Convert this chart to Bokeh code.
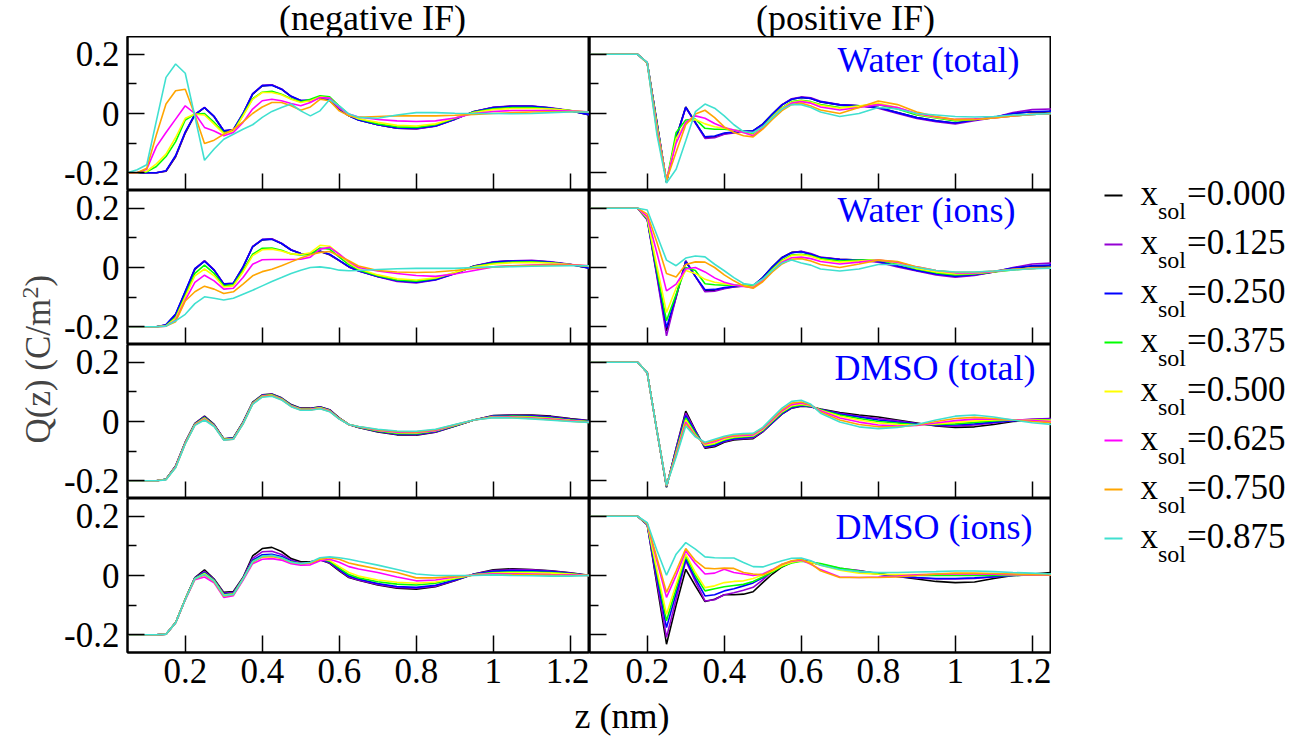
import math
from bokeh.plotting import figure
from bokeh.layouts import row, column
from bokeh.models import Range1d, FixedTicker, Label, ColumnDataSource, CustomLabelingPolicy
from bokeh.embed import file_html
from bokeh.resources import INLINE

FONT = "Liberation Serif"

# ---------------- data ----------------
Z = [0.05, 0.075, 0.1, 0.125, 0.15, 0.175, 0.2, 0.225, 0.25, 0.275, 0.3, 0.325, 0.35,
     0.375, 0.4, 0.425, 0.45, 0.475, 0.5, 0.525, 0.55, 0.575, 0.6, 0.625, 0.65,
     0.7, 0.75, 0.8, 0.85, 0.9, 0.95, 1.0, 1.05, 1.1, 1.15, 1.2, 1.25]

X_SOL = ["0.000", "0.125", "0.250", "0.375", "0.500", "0.625", "0.750", "0.875"]
COLORS = ["#000000", "#9400D3", "#0000FF", "#00FF00", "#FFFF00", "#FF00FF", "#FFA500", "#40E0D0"]

PANEL_LABELS = ["Water (total)", "Water (ions)", "DMSO (total)", "DMSO (ions)"]
COL_TITLES = ["(negative IF)", "(positive IF)"]
X_TICKS = [0.2, 0.4, 0.6, 0.8, 1.0, 1.2]
X_TICK_LABELS = ["0.2", "0.4", "0.6", "0.8", "1", "1.2"]
Y_TICKS = [-0.2, 0.0, 0.2]
Y_TICK_LABELS = ["-0.2", "0", "0.2"]
Y_MINOR = [-0.1, 0.1]

# Water (total), negative IF
wt_neg = [
    [-0.200, -0.200, -0.200, -0.200, -0.195, -0.146, -0.066, -0.005, 0.020, -0.011, -0.060, -0.056, -0.002,
     0.065, 0.093, 0.096, 0.082, 0.057, 0.043, 0.043, 0.054, 0.043, 0.015, -0.008, -0.022,
     -0.038, -0.050, -0.051, -0.042, -0.019, 0.007, 0.020, 0.025, 0.024, 0.018, 0.009, -0.005],
    [-0.200, -0.200, -0.200, -0.200, -0.194, -0.144, -0.064, -0.003, 0.021, -0.010, -0.058, -0.055, 0.000,
     0.067, 0.095, 0.097, 0.083, 0.058, 0.044, 0.044, 0.055, 0.044, 0.016, -0.007, -0.021,
     -0.038, -0.050, -0.052, -0.043, -0.020, 0.007, 0.021, 0.026, 0.025, 0.019, 0.010, -0.004],
    [-0.200, -0.200, -0.200, -0.200, -0.193, -0.142, -0.062, -0.003, 0.020, -0.010, -0.058, -0.054, 0.000,
     0.066, 0.094, 0.095, 0.082, 0.058, 0.044, 0.045, 0.056, 0.045, 0.016, -0.008, -0.022,
     -0.038, -0.049, -0.050, -0.042, -0.019, 0.006, 0.020, 0.024, 0.024, 0.018, 0.009, -0.004],
    [-0.200, -0.200, -0.197, -0.179, -0.145, -0.095, -0.022, -0.002, 0.000, -0.030, -0.065, -0.060, -0.005,
     0.050, 0.072, 0.075, 0.065, 0.050, 0.040, 0.048, 0.060, 0.056, 0.025, -0.003, -0.018,
     -0.035, -0.045, -0.047, -0.038, -0.017, 0.005, 0.016, 0.020, 0.020, 0.016, 0.010, 0.004],
    [-0.200, -0.200, -0.195, -0.170, -0.137, -0.081, -0.016, -0.002, -0.005, -0.036, -0.068, -0.061, -0.008,
     0.048, 0.071, 0.071, 0.063, 0.048, 0.037, 0.043, 0.056, 0.052, 0.020, -0.005, -0.018,
     -0.030, -0.040, -0.042, -0.035, -0.015, 0.003, 0.013, 0.017, 0.017, 0.015, 0.010, 0.005],
    [-0.200, -0.200, -0.188, -0.112, -0.064, -0.019, 0.026, 0.000, -0.047, -0.059, -0.075, -0.064, -0.030,
     0.015, 0.043, 0.048, 0.043, 0.034, 0.026, 0.037, 0.054, 0.052, 0.020, -0.002, -0.012,
     -0.020, -0.025, -0.027, -0.025, -0.015, 0.000, 0.007, 0.010, 0.010, 0.010, 0.008, 0.006],
    [-0.200, -0.200, -0.185, -0.072, 0.032, 0.077, 0.082, -0.005, -0.101, -0.090, -0.070, -0.053, -0.028,
     0.000, 0.022, 0.037, 0.037, 0.026, 0.011, 0.022, 0.048, 0.043, 0.009, -0.008, -0.013,
     -0.010, -0.008, -0.008, -0.008, -0.006, -0.003, 0.000, 0.003, 0.005, 0.006, 0.006, 0.005],
    [-0.200, -0.190, -0.173, -0.025, 0.122, 0.167, 0.136, -0.010, -0.158, -0.120, -0.087, -0.070, -0.053,
     -0.038, -0.013, 0.007, 0.020, 0.032, 0.009, -0.008, 0.009, 0.047, 0.026, -0.002, -0.013,
     -0.016, -0.005, 0.003, 0.003, 0.001, 0.000, 0.000, -0.001, 0.000, 0.003, 0.005, 0.005],
]

# Water (ions), negative IF
wi_neg = [
    [-0.200, -0.200, -0.200, -0.200, -0.194, -0.160, -0.084, -0.006, 0.022, -0.009, -0.056, -0.054, 0.000,
     0.070, 0.093, 0.096, 0.081, 0.059, 0.047, 0.045, 0.054, 0.043, 0.023, 0.002, -0.011,
     -0.030, -0.045, -0.050, -0.040, -0.020, 0.005, 0.018, 0.022, 0.023, 0.018, 0.010, -0.003],
    [-0.200, -0.200, -0.200, -0.200, -0.194, -0.158, -0.082, -0.004, 0.023, -0.008, -0.055, -0.053, 0.002,
     0.071, 0.095, 0.097, 0.082, 0.060, 0.047, 0.046, 0.055, 0.044, 0.023, 0.002, -0.012,
     -0.031, -0.047, -0.052, -0.042, -0.021, 0.005, 0.019, 0.023, 0.024, 0.019, 0.011, -0.002],
    [-0.200, -0.200, -0.200, -0.200, -0.193, -0.157, -0.080, -0.004, 0.021, -0.009, -0.056, -0.053, 0.001,
     0.070, 0.094, 0.095, 0.081, 0.059, 0.047, 0.046, 0.056, 0.045, 0.024, 0.003, -0.011,
     -0.030, -0.045, -0.050, -0.041, -0.020, 0.004, 0.018, 0.022, 0.022, 0.018, 0.010, -0.002],
    [-0.200, -0.200, -0.200, -0.200, -0.196, -0.168, -0.095, -0.020, 0.008, -0.020, -0.062, -0.058, -0.010,
     0.045, 0.065, 0.066, 0.058, 0.046, 0.042, 0.045, 0.066, 0.062, 0.035, 0.010, -0.008,
     -0.028, -0.042, -0.046, -0.037, -0.018, 0.003, 0.014, 0.018, 0.019, 0.016, 0.010, 0.003],
    [-0.200, -0.200, -0.200, -0.200, -0.197, -0.172, -0.100, -0.028, -0.005, -0.028, -0.066, -0.062, -0.015,
     0.040, 0.060, 0.062, 0.056, 0.046, 0.044, 0.050, 0.075, 0.072, 0.045, 0.015, -0.004,
     -0.025, -0.038, -0.042, -0.035, -0.017, 0.002, 0.012, 0.016, 0.017, 0.015, 0.010, 0.004],
    [-0.200, -0.200, -0.200, -0.200, -0.198, -0.178, -0.110, -0.050, -0.026, -0.045, -0.073, -0.070, -0.034,
     0.011, 0.026, 0.027, 0.027, 0.027, 0.028, 0.035, 0.062, 0.068, 0.045, 0.020, 0.000,
     -0.012, -0.020, -0.027, -0.030, -0.022, -0.010, 0.002, 0.006, 0.008, 0.010, 0.010, 0.006],
    [-0.200, -0.200, -0.200, -0.200, -0.198, -0.183, -0.113, -0.082, -0.063, -0.073, -0.088, -0.082, -0.056,
     -0.028, -0.014, -0.006, 0.006, 0.019, 0.032, 0.043, 0.051, 0.054, 0.039, 0.023, 0.005,
     -0.010, -0.015, -0.017, -0.015, -0.010, -0.003, 0.002, 0.005, 0.007, 0.008, 0.008, 0.006],
    [-0.200, -0.200, -0.200, -0.200, -0.198, -0.180, -0.158, -0.122, -0.099, -0.104, -0.110, -0.104, -0.090,
     -0.077, -0.062, -0.047, -0.034, -0.020, -0.009, 0.000, 0.002, -0.002, -0.009, -0.011, -0.010,
     -0.007, -0.004, -0.003, -0.003, -0.003, 0.000, 0.002, 0.003, 0.004, 0.005, 0.006, 0.006],
]

# DMSO (total), negative IF
dt_neg = [
    [-0.200, -0.200, -0.200, -0.200, -0.195, -0.150, -0.070, -0.006, 0.018, -0.010, -0.058, -0.055, -0.002,
     0.065, 0.090, 0.093, 0.080, 0.057, 0.045, 0.045, 0.050, 0.040, 0.012, -0.010, -0.020,
     -0.035, -0.045, -0.046, -0.036, -0.016, 0.005, 0.020, 0.022, 0.022, 0.018, 0.010, 0.003],
    [-0.200, -0.200, -0.200, -0.200, -0.195, -0.150, -0.070, -0.007, 0.016, -0.011, -0.059, -0.056, -0.003,
     0.064, 0.089, 0.092, 0.079, 0.056, 0.044, 0.044, 0.049, 0.039, 0.011, -0.010, -0.020,
     -0.034, -0.044, -0.045, -0.035, -0.015, 0.005, 0.019, 0.021, 0.020, 0.016, 0.008, 0.002],
    [-0.200, -0.200, -0.200, -0.200, -0.195, -0.151, -0.071, -0.008, 0.015, -0.012, -0.059, -0.056, -0.004,
     0.063, 0.088, 0.091, 0.078, 0.055, 0.043, 0.043, 0.048, 0.038, 0.011, -0.010, -0.019,
     -0.033, -0.042, -0.043, -0.034, -0.015, 0.005, 0.018, 0.019, 0.018, 0.014, 0.007, 0.001],
    [-0.200, -0.200, -0.200, -0.200, -0.195, -0.152, -0.072, -0.009, 0.013, -0.013, -0.060, -0.057, -0.005,
     0.062, 0.087, 0.090, 0.077, 0.054, 0.042, 0.042, 0.047, 0.037, 0.010, -0.010, -0.019,
     -0.032, -0.040, -0.041, -0.032, -0.014, 0.005, 0.017, 0.018, 0.016, 0.012, 0.005, 0.000],
    [-0.200, -0.200, -0.200, -0.200, -0.196, -0.153, -0.073, -0.010, 0.011, -0.014, -0.061, -0.058, -0.006,
     0.061, 0.086, 0.089, 0.076, 0.053, 0.041, 0.041, 0.046, 0.036, 0.010, -0.010, -0.018,
     -0.030, -0.038, -0.039, -0.031, -0.013, 0.005, 0.016, 0.016, 0.014, 0.010, 0.004, -0.001],
    [-0.200, -0.200, -0.200, -0.200, -0.196, -0.154, -0.074, -0.011, 0.009, -0.015, -0.062, -0.059, -0.007,
     0.060, 0.085, 0.088, 0.075, 0.052, 0.040, 0.040, 0.045, 0.035, 0.009, -0.010, -0.018,
     -0.029, -0.036, -0.037, -0.030, -0.012, 0.005, 0.015, 0.015, 0.012, 0.008, 0.002, -0.002],
    [-0.200, -0.200, -0.200, -0.200, -0.196, -0.155, -0.075, -0.012, 0.007, -0.016, -0.062, -0.060, -0.008,
     0.059, 0.084, 0.087, 0.074, 0.051, 0.039, 0.039, 0.044, 0.034, 0.009, -0.010, -0.017,
     -0.028, -0.034, -0.035, -0.028, -0.011, 0.005, 0.014, 0.013, 0.010, 0.006, 0.001, -0.003],
    [-0.200, -0.200, -0.200, -0.200, -0.197, -0.156, -0.076, -0.013, 0.005, -0.017, -0.063, -0.060, -0.009,
     0.058, 0.082, 0.085, 0.073, 0.050, 0.038, 0.038, 0.043, 0.033, 0.008, -0.010, -0.017,
     -0.026, -0.032, -0.033, -0.026, -0.010, 0.005, 0.013, 0.012, 0.009, 0.004, 0.000, -0.003],
]

# DMSO (ions), negative IF
di_neg = [
    [-0.200, -0.200, -0.200, -0.200, -0.198, -0.159, -0.080, -0.007, 0.019, -0.012, -0.057, -0.054, -0.007,
     0.066, 0.091, 0.095, 0.081, 0.057, 0.046, 0.046, 0.053, 0.041, 0.016, -0.007, -0.016,
     -0.032, -0.043, -0.046, -0.038, -0.018, 0.005, 0.019, 0.023, 0.020, 0.016, 0.009, 0.000],
    [-0.200, -0.200, -0.200, -0.200, -0.198, -0.159, -0.080, -0.008, 0.014, -0.014, -0.060, -0.057, -0.008,
     0.058, 0.080, 0.082, 0.071, 0.052, 0.042, 0.044, 0.052, 0.043, 0.018, -0.005, -0.015,
     -0.030, -0.040, -0.043, -0.036, -0.017, 0.005, 0.017, 0.020, 0.019, 0.015, 0.008, 0.000],
    [-0.200, -0.200, -0.200, -0.200, -0.198, -0.159, -0.080, -0.009, 0.010, -0.016, -0.063, -0.060, -0.010,
     0.052, 0.070, 0.072, 0.064, 0.048, 0.040, 0.043, 0.054, 0.046, 0.021, -0.002, -0.012,
     -0.027, -0.037, -0.040, -0.033, -0.015, 0.004, 0.014, 0.017, 0.016, 0.013, 0.007, 0.000],
    [-0.200, -0.200, -0.200, -0.200, -0.198, -0.159, -0.080, -0.010, 0.008, -0.017, -0.065, -0.062, -0.011,
     0.048, 0.065, 0.067, 0.060, 0.046, 0.039, 0.043, 0.055, 0.048, 0.025, 0.003, -0.008,
     -0.021, -0.029, -0.032, -0.026, -0.011, 0.003, 0.010, 0.012, 0.012, 0.010, 0.006, 0.000],
    [-0.200, -0.200, -0.200, -0.200, -0.198, -0.159, -0.080, -0.011, 0.006, -0.018, -0.066, -0.063, -0.012,
     0.046, 0.062, 0.064, 0.058, 0.045, 0.038, 0.043, 0.056, 0.051, 0.030, 0.010, -0.002,
     -0.015, -0.023, -0.026, -0.022, -0.009, 0.002, 0.008, 0.009, 0.009, 0.008, 0.005, 0.000],
    [-0.200, -0.200, -0.200, -0.200, -0.198, -0.160, -0.082, -0.014, -0.005, -0.025, -0.074, -0.068, -0.016,
     0.040, 0.055, 0.057, 0.052, 0.040, 0.035, 0.036, 0.050, 0.055, 0.045, 0.030, 0.022,
     0.010, -0.005, -0.018, -0.015, -0.005, 0.002, 0.006, 0.006, 0.005, 0.003, 0.002, 0.000],
    [-0.200, -0.200, -0.200, -0.200, -0.198, -0.160, -0.081, -0.012, 0.002, -0.021, -0.070, -0.065, -0.013,
     0.044, 0.063, 0.064, 0.058, 0.044, 0.040, 0.042, 0.055, 0.060, 0.055, 0.042, 0.035,
     0.022, 0.010, -0.008, -0.008, -0.003, 0.001, 0.003, 0.003, 0.002, 0.001, 0.000, 0.000],
    [-0.200, -0.200, -0.200, -0.200, -0.198, -0.160, -0.081, -0.011, 0.004, -0.019, -0.068, -0.064, -0.012,
     0.046, 0.065, 0.068, 0.060, 0.045, 0.040, 0.045, 0.060, 0.063, 0.060, 0.055, 0.048,
     0.035, 0.020, 0.005, 0.000, 0.000, 0.000, 0.002, 0.000, -0.001, -0.002, -0.002, 0.000],
]

# Water (total), positive IF
wt_pos = [
    [0.200, 0.200, 0.200, 0.200, 0.200, 0.200, 0.172, -0.030, -0.233, -0.081, 0.022, -0.030, -0.081,
     -0.079, -0.068, -0.064, -0.061, -0.059, -0.036, -0.002, 0.029, 0.048, 0.054, 0.051, 0.039,
     0.029, 0.026, 0.020, 0.003, -0.014, -0.025, -0.033, -0.021, -0.014, 0.000, 0.006, 0.005],
    [0.200, 0.200, 0.200, 0.200, 0.200, 0.200, 0.170, -0.030, -0.230, -0.085, 0.020, -0.032, -0.084,
     -0.082, -0.070, -0.066, -0.062, -0.060, -0.038, -0.003, 0.030, 0.050, 0.056, 0.053, 0.041,
     0.030, 0.026, 0.018, 0.000, -0.017, -0.028, -0.035, -0.024, -0.014, 0.003, 0.013, 0.015],
    [0.200, 0.200, 0.200, 0.200, 0.200, 0.200, 0.171, -0.030, -0.231, -0.083, 0.021, -0.031, -0.079,
     -0.076, -0.066, -0.063, -0.060, -0.058, -0.036, -0.002, 0.029, 0.048, 0.054, 0.051, 0.040,
     0.029, 0.026, 0.020, 0.003, -0.014, -0.025, -0.032, -0.022, -0.013, 0.000, 0.006, 0.008],
    [0.200, 0.200, 0.200, 0.200, 0.200, 0.200, 0.170, -0.035, -0.230, -0.064, -0.022, -0.019, -0.050,
     -0.053, -0.053, -0.056, -0.060, -0.070, -0.045, -0.010, 0.020, 0.040, 0.045, 0.040, 0.030,
     0.020, 0.025, 0.030, 0.015, -0.005, -0.015, -0.025, -0.020, -0.014, -0.008, -0.003, 0.000],
    [0.200, 0.200, 0.200, 0.200, 0.200, 0.200, 0.170, -0.040, -0.228, -0.085, -0.030, -0.020, -0.035,
     -0.045, -0.050, -0.056, -0.065, -0.072, -0.048, -0.012, 0.018, 0.038, 0.043, 0.038, 0.028,
     0.018, 0.025, 0.035, 0.020, -0.002, -0.013, -0.022, -0.020, -0.015, -0.008, -0.003, 0.000],
    [0.200, 0.200, 0.200, 0.200, 0.200, 0.200, 0.170, -0.050, -0.225, -0.100, -0.030, -0.008, -0.016,
     -0.034, -0.047, -0.056, -0.064, -0.075, -0.050, -0.015, 0.015, 0.035, 0.040, 0.035, 0.022,
     0.012, 0.020, 0.030, 0.020, 0.000, -0.012, -0.020, -0.018, -0.015, -0.008, -0.003, 0.000],
    [0.200, 0.200, 0.200, 0.200, 0.200, 0.200, 0.170, -0.060, -0.225, -0.130, -0.038, -0.002, 0.011,
     -0.014, -0.045, -0.064, -0.075, -0.079, -0.053, -0.020, 0.010, 0.030, 0.035, 0.025, 0.012,
     0.000, 0.020, 0.042, 0.030, 0.005, -0.010, -0.020, -0.020, -0.015, -0.008, -0.003, 0.000],
    [0.200, 0.200, 0.200, 0.200, 0.200, 0.200, 0.172, -0.070, -0.235, -0.188, -0.092, 0.006, 0.032,
     0.018, -0.008, -0.038, -0.061, -0.064, -0.045, -0.015, 0.015, 0.030, 0.030, 0.020, 0.005,
     -0.010, 0.000, 0.020, 0.015, 0.000, -0.005, -0.010, -0.012, -0.010, -0.005, -0.003, 0.000],
]

# Water (ions), positive IF
wi_pos = [
    [0.200, 0.200, 0.200, 0.200, 0.200, 0.200, 0.163, -0.025, -0.214, -0.100, 0.022, -0.030, -0.079,
     -0.077, -0.070, -0.065, -0.062, -0.062, -0.034, 0.002, 0.034, 0.051, 0.054, 0.045, 0.034,
     0.028, 0.025, 0.020, 0.005, -0.010, -0.022, -0.030, -0.025, -0.015, -0.003, 0.005, 0.005],
    [0.200, 0.200, 0.200, 0.200, 0.200, 0.200, 0.160, -0.030, -0.231, -0.100, 0.022, -0.030, -0.082,
     -0.080, -0.072, -0.066, -0.063, -0.063, -0.036, 0.000, 0.032, 0.050, 0.055, 0.047, 0.035,
     0.028, 0.025, 0.018, 0.002, -0.012, -0.025, -0.033, -0.027, -0.015, 0.000, 0.012, 0.015],
    [0.200, 0.200, 0.200, 0.200, 0.200, 0.200, 0.163, -0.020, -0.203, -0.095, 0.020, -0.030, -0.075,
     -0.074, -0.068, -0.064, -0.061, -0.061, -0.034, 0.002, 0.033, 0.050, 0.053, 0.045, 0.034,
     0.027, 0.025, 0.020, 0.005, -0.010, -0.022, -0.029, -0.024, -0.014, -0.002, 0.006, 0.008],
    [0.200, 0.200, 0.200, 0.200, 0.200, 0.200, 0.165, -0.010, -0.180, -0.090, 0.000, -0.010, -0.055,
     -0.058, -0.060, -0.060, -0.060, -0.062, -0.040, -0.005, 0.025, 0.042, 0.045, 0.040, 0.030,
     0.022, 0.025, 0.025, 0.012, -0.005, -0.018, -0.025, -0.022, -0.015, -0.008, -0.003, 0.000],
    [0.200, 0.200, 0.200, 0.200, 0.200, 0.200, 0.167, 0.005, -0.152, -0.070, -0.010, -0.020, -0.040,
     -0.050, -0.055, -0.060, -0.062, -0.065, -0.042, -0.008, 0.022, 0.040, 0.043, 0.038, 0.027,
     0.018, 0.022, 0.026, 0.015, -0.003, -0.015, -0.022, -0.020, -0.014, -0.007, -0.003, 0.000],
    [0.200, 0.200, 0.200, 0.200, 0.200, 0.200, 0.172, 0.050, -0.079, -0.056, -0.005, 0.000, -0.015,
     -0.035, -0.050, -0.058, -0.064, -0.068, -0.045, -0.012, 0.018, 0.033, 0.035, 0.030, 0.020,
     0.012, 0.018, 0.025, 0.018, 0.002, -0.010, -0.018, -0.018, -0.013, -0.007, -0.003, 0.000],
    [0.200, 0.200, 0.200, 0.200, 0.200, 0.200, 0.180, 0.085, -0.020, -0.032, 0.010, 0.019, 0.018,
     0.000, -0.025, -0.045, -0.062, -0.070, -0.048, -0.015, 0.012, 0.028, 0.030, 0.022, 0.010,
     0.000, 0.012, 0.025, 0.020, 0.002, -0.010, -0.016, -0.016, -0.012, -0.006, -0.003, -0.001],
    [0.200, 0.200, 0.200, 0.200, 0.200, 0.200, 0.194, 0.110, 0.025, 0.006, 0.032, 0.039, 0.036,
     0.011, -0.011, -0.034, -0.054, -0.059, -0.039, -0.010, 0.015, 0.025, 0.015, 0.008, -0.005,
     -0.012, -0.005, 0.010, 0.010, 0.000, -0.010, -0.015, -0.015, -0.012, -0.008, -0.004, -0.002],
]

# DMSO (total), positive IF
dt_pos = [
    [0.200, 0.200, 0.200, 0.200, 0.200, 0.200, 0.165, -0.030, -0.222, -0.090, 0.035, -0.030, -0.090,
     -0.085, -0.070, -0.062, -0.060, -0.058, -0.035, -0.005, 0.025, 0.045, 0.052, 0.050, 0.042,
     0.030, 0.022, 0.015, 0.005, -0.005, -0.015, -0.020, -0.018, -0.010, 0.000, 0.005, 0.010],
    [0.200, 0.200, 0.200, 0.200, 0.200, 0.200, 0.165, -0.030, -0.220, -0.090, 0.028, -0.032, -0.088,
     -0.082, -0.068, -0.060, -0.058, -0.055, -0.034, -0.004, 0.026, 0.046, 0.053, 0.050, 0.040,
     0.028, 0.018, 0.010, 0.002, -0.007, -0.013, -0.016, -0.012, -0.005, 0.003, 0.008, 0.010],
    [0.200, 0.200, 0.200, 0.200, 0.200, 0.200, 0.165, -0.030, -0.220, -0.095, 0.020, -0.035, -0.085,
     -0.080, -0.066, -0.058, -0.055, -0.052, -0.032, -0.003, 0.027, 0.047, 0.054, 0.050, 0.040,
     0.025, 0.015, 0.005, -0.002, -0.008, -0.012, -0.012, -0.008, -0.002, 0.003, 0.006, 0.007],
    [0.200, 0.200, 0.200, 0.200, 0.200, 0.200, 0.165, -0.030, -0.218, -0.100, 0.012, -0.040, -0.082,
     -0.076, -0.062, -0.055, -0.052, -0.050, -0.030, 0.000, 0.030, 0.050, 0.056, 0.052, 0.040,
     0.022, 0.010, 0.000, -0.005, -0.010, -0.010, -0.008, -0.003, 0.002, 0.005, 0.006, 0.006],
    [0.200, 0.200, 0.200, 0.200, 0.200, 0.200, 0.165, -0.030, -0.218, -0.105, 0.005, -0.045, -0.080,
     -0.073, -0.060, -0.052, -0.050, -0.048, -0.028, 0.003, 0.033, 0.053, 0.058, 0.053, 0.038,
     0.018, 0.005, -0.005, -0.010, -0.012, -0.008, -0.003, 0.002, 0.005, 0.006, 0.005, 0.004],
    [0.200, 0.200, 0.200, 0.200, 0.200, 0.200, 0.165, -0.030, -0.216, -0.110, -0.002, -0.048, -0.076,
     -0.068, -0.056, -0.049, -0.047, -0.045, -0.025, 0.006, 0.036, 0.057, 0.062, 0.055, 0.036,
     0.012, -0.002, -0.012, -0.015, -0.013, -0.005, 0.003, 0.008, 0.008, 0.006, 0.003, 0.000],
    [0.200, 0.200, 0.200, 0.200, 0.200, 0.200, 0.165, -0.030, -0.215, -0.115, -0.008, -0.050, -0.073,
     -0.064, -0.053, -0.046, -0.044, -0.042, -0.022, 0.010, 0.040, 0.062, 0.066, 0.056, 0.032,
     0.005, -0.010, -0.018, -0.018, -0.012, 0.000, 0.010, 0.014, 0.010, 0.005, 0.000, -0.004],
    [0.200, 0.200, 0.200, 0.200, 0.200, 0.200, 0.165, -0.030, -0.215, -0.120, -0.015, -0.052, -0.070,
     -0.060, -0.050, -0.043, -0.041, -0.040, -0.020, 0.013, 0.045, 0.068, 0.072, 0.058, 0.028,
     -0.002, -0.018, -0.024, -0.020, -0.010, 0.005, 0.018, 0.022, 0.015, 0.005, -0.004, -0.010],
]

# DMSO (ions), positive IF
di_pos = [
    [0.200, 0.200, 0.200, 0.200, 0.200, 0.200, 0.173, -0.030, -0.232, -0.100, 0.021, -0.035, -0.088,
     -0.080, -0.065, -0.065, -0.063, -0.055, -0.024, 0.005, 0.029, 0.045, 0.052, 0.045, 0.036,
     0.021, 0.016, 0.007, -0.003, -0.012, -0.020, -0.024, -0.022, -0.010, 0.000, 0.005, 0.010],
    [0.200, 0.200, 0.200, 0.200, 0.200, 0.200, 0.170, -0.020, -0.209, -0.080, 0.050, -0.020, -0.086,
     -0.082, -0.065, -0.058, -0.050, -0.040, -0.015, 0.015, 0.035, 0.048, 0.052, 0.046, 0.038,
     0.024, 0.017, 0.005, -0.002, -0.008, -0.012, -0.012, -0.010, -0.005, 0.000, 0.003, 0.005],
    [0.200, 0.200, 0.200, 0.200, 0.200, 0.200, 0.172, -0.005, -0.176, -0.060, 0.055, -0.010, -0.069,
     -0.065, -0.052, -0.045, -0.035, -0.025, -0.008, 0.015, 0.033, 0.046, 0.050, 0.045, 0.036,
     0.022, 0.013, 0.004, -0.003, -0.007, -0.010, -0.010, -0.008, -0.004, 0.000, 0.003, 0.005],
    [0.200, 0.200, 0.200, 0.200, 0.200, 0.200, 0.173, 0.010, -0.153, -0.045, 0.066, 0.000, -0.052,
     -0.045, -0.038, -0.034, -0.030, -0.020, -0.005, 0.012, 0.030, 0.042, 0.048, 0.045, 0.040,
     0.025, 0.015, 0.006, 0.000, 0.000, 0.000, 0.000, 0.000, 0.000, 0.000, 0.002, 0.004],
    [0.200, 0.200, 0.200, 0.200, 0.200, 0.200, 0.174, 0.020, -0.131, -0.030, 0.072, 0.010, -0.041,
     -0.035, -0.024, -0.020, -0.018, -0.010, 0.002, 0.015, 0.033, 0.045, 0.050, 0.045, 0.035,
     0.018, 0.008, 0.004, 0.003, 0.003, 0.004, 0.005, 0.005, 0.004, 0.003, 0.003, 0.003],
    [0.200, 0.200, 0.200, 0.200, 0.200, 0.200, 0.175, 0.050, -0.074, 0.000, 0.083, 0.040, 0.005,
     0.008, 0.021, 0.010, 0.005, 0.000, 0.005, 0.020, 0.038, 0.048, 0.052, 0.038, 0.020,
     -0.005, -0.007, -0.005, -0.002, 0.002, 0.004, 0.005, 0.005, 0.004, 0.003, 0.002, 0.001],
    [0.200, 0.200, 0.200, 0.200, 0.200, 0.200, 0.176, 0.060, -0.057, 0.015, 0.091, 0.050, 0.025,
     0.023, 0.025, 0.024, 0.010, 0.005, 0.002, 0.018, 0.038, 0.050, 0.055, 0.040, 0.016,
     -0.007, -0.007, -0.007, -0.005, 0.000, 0.005, 0.008, 0.008, 0.007, 0.005, 0.003, 0.002],
    [0.200, 0.200, 0.200, 0.200, 0.200, 0.200, 0.178, 0.085, 0.001, 0.072, 0.111, 0.089, 0.063,
     0.060, 0.059, 0.059, 0.044, 0.030, 0.029, 0.040, 0.050, 0.058, 0.059, 0.050, 0.035,
     0.020, 0.013, 0.010, 0.010, 0.012, 0.013, 0.015, 0.015, 0.013, 0.010, 0.008, 0.005],
]

LEFT = [wt_neg, wi_neg, dt_neg, di_neg]
RIGHT = [wt_pos, wi_pos, dt_pos, di_pos]
for _panel in LEFT + RIGHT:
    for _s in _panel:
        assert len(_s) == len(Z), len(_s)

# -------------- layout constants (pixels) --------------
FRAME_W, FRAME_H = 462, 154
YLAB_W = 58
LEFT_BORDER = 69
TOP_H = 36
BOTTOM_BORDER = 45
TOTAL_H = 743
STRIP_H = TOTAL_H - TOP_H - 4 * FRAME_H - BOTTOM_BORDER
LEG_W = 1312 - YLAB_W - LEFT_BORDER - 2 * FRAME_W
MID_W = LEFT_BORDER + 2 * FRAME_W

X0, X1 = 0.05, 1.25
Y0, Y1 = -0.26, 0.26
PX_PER_Y = FRAME_H / (Y1 - Y0)
PX_PER_X = FRAME_W / (X1 - X0)


def bfix(size):
    """renderer places an alphabetic baseline this many px lower than asked"""
    return 0.285 * size


# panel label: (right-edge offset from frame left px, baseline offset from frame top px)
LABEL_POS = [(430, 34), (426, 30), (446, 34), (443, 39)]

HIDE_LABELS = "for (const i of indices) { indices.unset(i) } return indices"


def make_panel(data, r, c):
    bottom = BOTTOM_BORDER if r == 3 else 0
    left = LEFT_BORDER if c == 0 else 0
    p = figure(width=FRAME_W + left, height=FRAME_H + bottom,
               x_range=Range1d(X0, X1), y_range=Range1d(Y0, Y1),
               output_backend="svg", toolbar_location=None,
               min_border_left=left, min_border_right=0,
               min_border_top=0, min_border_bottom=bottom)
    p.outline_line_color = "black"
    p.outline_line_width = 2
    p.outline_line_alpha = 1
    p.xgrid.visible = False
    p.ygrid.visible = False
    p.background_fill_color = "white"
    p.border_fill_color = "white"

    xa = p.xaxis[0]
    xa.ticker = FixedTicker(ticks=X_TICKS, minor_ticks=[])
    xa.major_label_overrides = dict(zip(X_TICKS, X_TICK_LABELS))
    xa.major_tick_in = 17
    xa.major_tick_out = 0
    xa.minor_tick_in = 0
    xa.minor_tick_out = 0
    xa.major_tick_line_color = "black"
    xa.major_tick_line_width = 1.5
    xa.axis_line_color = "black"
    xa.axis_line_width = 2
    xa.major_label_text_font = FONT
    if r == 3:
        xa.major_label_text_font_size = "35px"
        xa.major_label_standoff = 6
        xa.major_label_text_color = "black"
    else:
        xa.major_label_text_font_size = "0px"
        xa.major_label_standoff = 0
        xa.major_label_policy = CustomLabelingPolicy(code=HIDE_LABELS)

    ya = p.yaxis[0]
    ya.ticker = FixedTicker(ticks=Y_TICKS, minor_ticks=Y_MINOR)
    ya.major_label_overrides = dict(zip(Y_TICKS, Y_TICK_LABELS))
    ya.major_tick_in = 17
    ya.major_tick_out = 0
    ya.minor_tick_in = 9
    ya.minor_tick_out = 0
    ya.major_tick_line_color = "black"
    ya.minor_tick_line_color = "black"
    ya.major_tick_line_width = 1.5
    ya.minor_tick_line_width = 1.5
    ya.axis_line_color = "black"
    ya.axis_line_width = 2
    ya.major_label_text_font = FONT
    if c == 0:
        ya.major_label_text_font_size = "35px"
        ya.major_label_standoff = 8
        ya.major_label_text_color = "black"
    else:
        ya.major_label_text_font_size = "0px"
        ya.major_label_standoff = 0
        ya.major_label_policy = CustomLabelingPolicy(code=HIDE_LABELS)

    for series, color in zip(data, COLORS):
        p.line(Z, series, line_color=color, line_width=1.6)

    if c == 1:
        lx, ly = LABEL_POS[r]
        p.add_layout(Label(x=X0 + lx / PX_PER_X, y=Y1 - (ly - bfix(36)) / PX_PER_Y,
                           text=PANEL_LABELS[r], text_font=FONT, text_font_size="36px",
                           text_color="#0000FF", text_align="right", text_baseline="alphabetic"))
    return p


def blank(w, h):
    f = figure(width=w, height=h, x_range=Range1d(0, w), y_range=Range1d(0, h),
               output_backend="svg", toolbar_location=None, x_axis_type=None, y_axis_type=None,
               min_border=0, outline_line_color=None)
    f.grid.visible = False
    return f


rows = []
for r in range(4):
    rows.append(row(make_panel(LEFT[r], r, 0), make_panel(RIGHT[r], r, 1), spacing=0))

# top strip with the column titles (centres / baseline measured in page px)
TITLE_SIZE = 36
top = blank(MID_W, TOP_H)
for title, cx in zip(COL_TITLES, [372, 845]):
    top.add_layout(Label(x=cx - YLAB_W, y=TOP_H - 28 + bfix(TITLE_SIZE), text=title, text_font=FONT,
                         text_font_size=f"{TITLE_SIZE}px", text_align="center",
                         text_baseline="alphabetic", text_color="black"))

# bottom strip with x-axis title
strip = blank(MID_W, STRIP_H)
strip.add_layout(Label(x=574 - YLAB_W, y=TOTAL_H - 726 + bfix(36), text="z (nm)",
                       text_font=FONT, text_font_size="36px", text_align="left",
                       text_baseline="alphabetic", text_color="black"))

# y-axis title figure (rotated; "down" of the text is +x)
ylab = blank(YLAB_W, TOTAL_H)
ylab.add_layout(Label(x=48 - bfix(35), y=TOTAL_H - 443, text="Q(z) (C/m", angle=math.pi / 2,
                      text_font=FONT, text_font_size="35px", text_align="left",
                      text_baseline="alphabetic"))
ylab.add_layout(Label(x=37 - bfix(24), y=TOTAL_H - 298, text="2", angle=math.pi / 2,
                      text_font=FONT, text_font_size="24px", text_align="left",
                      text_baseline="alphabetic"))
ylab.add_layout(Label(x=48 - bfix(35), y=TOTAL_H - 286, text=")", angle=math.pi / 2,
                      text_font=FONT, text_font_size="35px", text_align="left",
                      text_baseline="alphabetic"))

# legend figure
leg = blank(LEG_W, TOTAL_H)
n = len(X_SOL)
line_y = [TOTAL_H - (195 + 49 * i) for i in range(n)]
base_y = [TOTAL_H - (203 + 49 * i) + bfix(35) for i in range(n)]
sub_y = [TOTAL_H - (217 + 49 * i) + bfix(24) for i in range(n)]
leg.segment(x0=[53] * n, x1=[71] * n, y0=line_y, y1=line_y, line_color=COLORS, line_width=2)
src_main = ColumnDataSource(dict(x=[89] * n, y=base_y, t=["x"] * n))
leg.text(x="x", y="y", text="t", source=src_main, text_font={"value": FONT}, text_font_size="35px",
         text_baseline="alphabetic", text_align="left", text_color="black")
src_sub = ColumnDataSource(dict(x=[106.5] * n, y=sub_y, t=["sol"] * n))
leg.text(x="x", y="y", text="t", source=src_sub, text_font={"value": FONT}, text_font_size="24px",
         text_baseline="alphabetic", text_align="left", text_color="black")
src_val = ColumnDataSource(dict(x=[135.5] * n, y=base_y, t=["=" + v for v in X_SOL]))
leg.text(x="x", y="y", text="t", source=src_val, text_font={"value": FONT}, text_font_size="35px",
         text_baseline="alphabetic", text_align="left", text_color="black")

middle = column(top, *rows, strip, spacing=0)
layout = row(ylab, middle, leg, spacing=0)

open("out.html", "w").write(file_html(layout, INLINE))
